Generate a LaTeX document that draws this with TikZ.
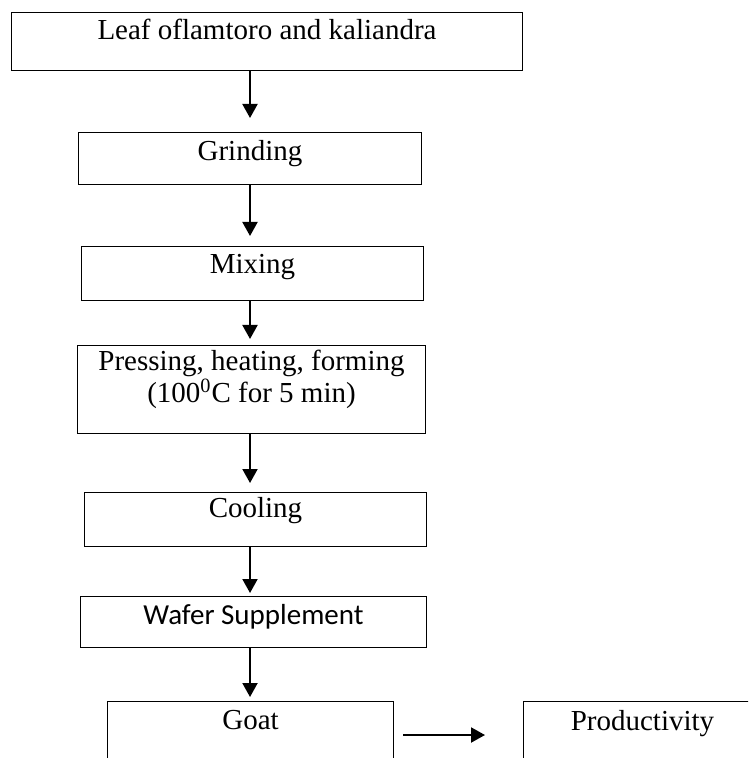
\documentclass[tikz,border=0pt]{standalone}
\usepackage{fontspec}
\setmainfont{Liberation Serif}
\newfontfamily\calibrifont{Carlito}
\usetikzlibrary{arrows.meta}

\begin{document}
\begin{tikzpicture}[
    x=0.5pt, y=-0.5pt,
    box/.style={rectangle, draw=black, line width=0.5pt, anchor=north west, inner sep=0pt,
      align=center, font=\fontsize{14.5pt}{14.5pt}\selectfont},
    flow/.style={-{Triangle[width=7.5pt,length=7pt]}, line width=1pt}
  ]
    \clip (0,0) rectangle (748,758);
    \coordinate (axis) at (250,0);
    \coordinate (yline) at (0,735);

    \node[box, minimum width=255.5pt, minimum height=29pt, text height=13.5pt, text depth=15.5pt] (leaf) at (11,12) {Leaf oflamtoro and kaliandra};
    \node[box, minimum width=171.5pt, minimum height=26pt, text height=14pt, text depth=12pt] (grind) at (78,132) {Grinding};
    \node[box, minimum width=171pt, minimum height=27pt, text height=13.5pt, text depth=13.5pt] (mix) at (81,246) {Mixing};
    \node[box, minimum width=174pt, minimum height=44pt, text height=28.5pt, text depth=15.5pt] (press) at (77,345) {Pressing, heating, forming\\(100\textsuperscript{0}C for 5 min)};
    \node[box, minimum width=171pt, minimum height=27pt, text height=12.5pt, text depth=14.5pt] (cool) at (84,492) {Cooling};
    \node[box, minimum width=173pt, minimum height=25.5pt, text height=14pt, text depth=11.5pt,
      font=\calibrifont\fontsize{14.5pt}{14.5pt}\selectfont] (wafer) at (80,596) {Wafer Supplement};
    \node[box, minimum width=143pt, minimum height=40pt, text height=14pt, text depth=26pt] (goat) at (107,701) {Goat};
    \node[box, minimum width=119pt, minimum height=40pt, text height=14.5pt, text depth=25.5pt] (prod) at (523,701) {Productivity};

    % arrows down the chain
    \foreach \a/\b/\s in {leaf/grind/7pt, grind/mix/5pt, mix/press/3pt, press/cool/4.5pt, cool/wafer/1.5pt, wafer/goat/2pt}
      \draw[flow, shorten >=\s] (\a.south -| axis) -- (\b.north -| axis);
    \draw[flow, shorten <=4.5pt, shorten >=19pt] (goat.east |- yline) -- (prod.west |- yline);
  \end{tikzpicture}
\end{document}
